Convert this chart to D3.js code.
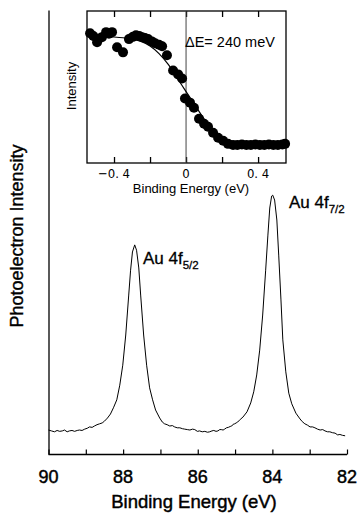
<!DOCTYPE html>
<html><head><meta charset="utf-8">
<script src="https://cdn.jsdelivr.net/npm/d3@7"></script>
<style>body{margin:0;background:#fff}svg{display:block}text{fill:#000}</style>
</head><body>
<script>
// Main spectrum: binding energy (eV) and intensity (arb.)
const specE = [90.00,89.92,89.84,89.77,89.70,89.63,89.57,89.50,89.44,89.37,89.30,89.23,89.17,89.10,89.03,88.96,88.90,88.83,88.77,88.70,88.63,88.56,88.50,88.42,88.34,88.26,88.17,88.09,88.01,87.93,87.85,87.80,87.75,87.69,87.64,87.58,87.53,87.45,87.37,87.29,87.21,87.13,87.02,86.95,86.89,86.82,86.75,86.68,86.62,86.55,86.48,86.41,86.35,86.28,86.21,86.14,86.08,86.01,85.95,85.88,85.81,85.74,85.68,85.62,85.57,85.51,85.46,85.41,85.37,85.32,85.28,85.23,85.18,85.13,85.09,85.05,85.01,84.97,84.93,84.86,84.79,84.68,84.58,84.50,84.42,84.34,84.26,84.18,84.12,84.07,84.02,83.99,83.94,83.88,83.83,83.77,83.72,83.64,83.56,83.48,83.37,83.26,83.20,83.13,83.06,82.99,82.92,82.86,82.79,82.72,82.65,82.59,82.52,82.46,82.39,82.32,82.25,82.19,82.12,82.05];
const specI = [5.4,5.2,5.0,5.3,5.1,5.2,5.4,5.0,5.2,5.3,5.1,5.3,5.4,5.3,5.6,5.8,6.1,6.0,6.3,6.6,6.8,7.0,7.4,8.1,9.0,10.4,12.2,15.5,20.0,26.8,35.8,41.4,45.5,47.1,45.9,41.9,35.8,26.8,20.0,14.9,12.2,9.9,8.1,7.2,6.8,6.6,6.3,6.4,6.1,5.9,5.9,5.7,5.6,5.5,5.4,5.6,5.5,5.1,5.2,5.0,5.1,4.9,5.0,5.2,5.3,5.1,5.2,5.5,5.5,5.4,5.6,5.9,6.0,6.2,6.3,6.7,6.8,7.0,7.2,7.8,8.3,9.5,11.5,14.0,17.8,23.4,31.3,41.4,49.3,55.4,58.1,58.3,57.2,52.7,44.8,34.7,25.7,18.5,13.7,11.3,9.2,7.9,7.3,6.8,6.5,6.1,6.1,5.9,5.6,5.4,5.5,5.2,5.0,5.0,4.8,4.7,4.3,4.4,4.2,4.1];
const mainTicks = [90,88,86,84,82];
const mainMinor = [89,87,85,83];

// Inset: Fermi edge data points
const dotE = [-0.533,-0.515,-0.494,-0.467,-0.444,-0.428,-0.411,-0.383,-0.350,-0.317,-0.295,-0.278,-0.260,-0.244,-0.228,-0.211,-0.190,-0.172,-0.150,-0.133,-0.106,-0.072,-0.044,-0.022,-0.006,0.022,0.044,0.072,0.100,0.122,0.150,0.178,0.206,0.233,0.261,0.285,0.310,0.335,0.360,0.385,0.410,0.435,0.460,0.485,0.510,0.535,0.550];
const dotI = [0.854,0.835,0.795,0.828,0.861,0.850,0.861,0.762,0.728,0.815,0.830,0.841,0.835,0.828,0.822,0.815,0.800,0.788,0.778,0.768,0.709,0.609,0.583,0.556,0.424,0.397,0.364,0.291,0.258,0.238,0.199,0.166,0.146,0.126,0.119,0.119,0.122,0.119,0.119,0.122,0.119,0.119,0.122,0.119,0.119,0.122,0.126];
// Inset: fitted curve
const fitE = [-0.55,-0.50,-0.45,-0.40,-0.35,-0.30,-0.25,-0.20,-0.15,-0.10,-0.05,0.00,0.05,0.10,0.15,0.20,0.25,0.30,0.35,0.40,0.45,0.50,0.55];
const fitI = [0.835,0.834,0.832,0.829,0.824,0.815,0.80,0.77,0.72,0.65,0.56,0.47,0.38,0.29,0.22,0.17,0.145,0.13,0.123,0.121,0.12,0.12,0.12];
const insetTicks = [-0.4,-0.2,0,0.2,0.4];
const insetTickLabels = ["\u22120. 4","","0","","0. 4"];

const W=360,H=516;
const svg=d3.select("body").append("svg").attr("width",W).attr("height",H);
const FONT="Liberation Sans, Arial, sans-serif";

// ---- Main chart ----
const x=d3.scaleLinear().domain([90,82]).range([48.5,347]);
const y=d3.scaleLinear().domain([0,100]).range([454,10]);

const xAxis=d3.axisBottom(x).tickValues(mainTicks.concat(mainMinor)).tickSize(-5).tickPadding(0).tickFormat("");
const gx=svg.append("g").attr("transform","translate(0,454.5)").call(xAxis);
gx.select(".domain").attr("stroke","#000").attr("stroke-width",1.3).attr("d",`M${x(90)},0H${x(82)}`);
gx.selectAll(".tick line").attr("stroke","#000").attr("stroke-width",1.2);

svg.append("g").selectAll("text").data(mainTicks).join("text")
  .attr("x",d=>x(d)).attr("y",483).attr("text-anchor","middle")
  .attr("font-family",FONT).attr("font-size",18).attr("stroke","#000").attr("stroke-width",0.45).text(d=>d);

svg.append("text").attr("x",194).attr("y",508).attr("text-anchor","middle")
  .attr("font-family",FONT).attr("font-size",18.5).attr("stroke","#000").attr("stroke-width",0.45).text("Binding Energy (eV)");

const yAxis=d3.axisLeft(y).tickValues([]).tickSizeOuter(0);
const gy=svg.append("g").attr("transform","translate(48.5,0)").call(yAxis);
gy.select(".domain").attr("stroke","#000").attr("stroke-width",1.3);

svg.append("text").attr("transform","translate(23,236) rotate(-90)").attr("text-anchor","middle")
  .attr("font-family",FONT).attr("font-size",18).attr("stroke","#000").attr("stroke-width",0.35).text("Photoelectron Intensity");

const spec=specE.map((e,i)=>[e,specI[i]]);
svg.append("path").datum(spec).attr("fill","none").attr("stroke","#000").attr("stroke-width",1)
  .attr("d",d3.line().x(d=>x(d[0])).y(d=>y(d[1])));

function peakLabel(px,py,sub){
  const t=svg.append("text").attr("x",px).attr("y",py).attr("font-family",FONT).attr("font-size",17)
    .attr("stroke","#000").attr("stroke-width",0.3);
  t.append("tspan").text("Au 4f");
  t.append("tspan").attr("font-size",11.5).attr("dy",5).text(sub);
}
peakLabel(143,264,"5/2");
peakLabel(289,208,"7/2");

// ---- Inset ----
const ix=d3.scaleLinear().domain([-0.55,0.555]).range([87,286]);
const iy=d3.scaleLinear().domain([0,1]).range([163,11]);

svg.append("rect").attr("x",87).attr("y",11).attr("width",199).attr("height",152)
  .attr("fill","none").attr("stroke","#000").attr("stroke-width",1.3);

const gib=svg.append("g").attr("transform","translate(0,163)")
  .call(d3.axisBottom(ix).tickValues(insetTicks).tickSize(-6).tickFormat(""));
gib.select(".domain").remove();
gib.selectAll(".tick line").attr("stroke","#000").attr("stroke-width",1.3);
const git=svg.append("g").attr("transform","translate(0,11)")
  .call(d3.axisTop(ix).tickValues(insetTicks).tickSize(-6).tickFormat(""));
git.select(".domain").remove();
git.selectAll(".tick line").attr("stroke","#000").attr("stroke-width",1.3);

svg.append("line").attr("x1",ix(0)).attr("x2",ix(0)).attr("y1",11).attr("y2",163)
  .attr("stroke","#444").attr("stroke-width",1);

svg.append("g").selectAll("text").data(insetTicks).join("text")
  .attr("x",d=>ix(d)).attr("y",177.5).attr("text-anchor","middle")
  .attr("font-family","DejaVu Sans Condensed, DejaVu Sans, sans-serif").attr("font-size",13)
  .text((d,i)=>insetTickLabels[i]);

svg.append("text").attr("x",191).attr("y",193).attr("text-anchor","middle")
  .attr("font-family",FONT).attr("font-size",13).text("Binding Energy (eV)");
svg.append("text").attr("transform","translate(76,86) rotate(-90)").attr("text-anchor","middle")
  .attr("font-family",FONT).attr("font-size",13).text("Intensity");
svg.append("text").attr("x",185).attr("y",47)
  .attr("font-family",FONT).attr("font-size",14.5).text("\u0394E= 240 meV");

const fit=fitE.map((e,i)=>[e,fitI[i]]);
svg.append("path").datum(fit).attr("fill","none").attr("stroke","#000").attr("stroke-width",1.2)
  .attr("d",d3.line().curve(d3.curveMonotoneX).x(d=>ix(d[0])).y(d=>iy(d[1])));

svg.append("g").selectAll("circle").data(dotE.map((e,i)=>[e,dotI[i]])).join("circle")
  .attr("cx",d=>ix(d[0])).attr("cy",d=>iy(d[1])).attr("r",5).attr("fill","#000");
</script>
</body></html>
